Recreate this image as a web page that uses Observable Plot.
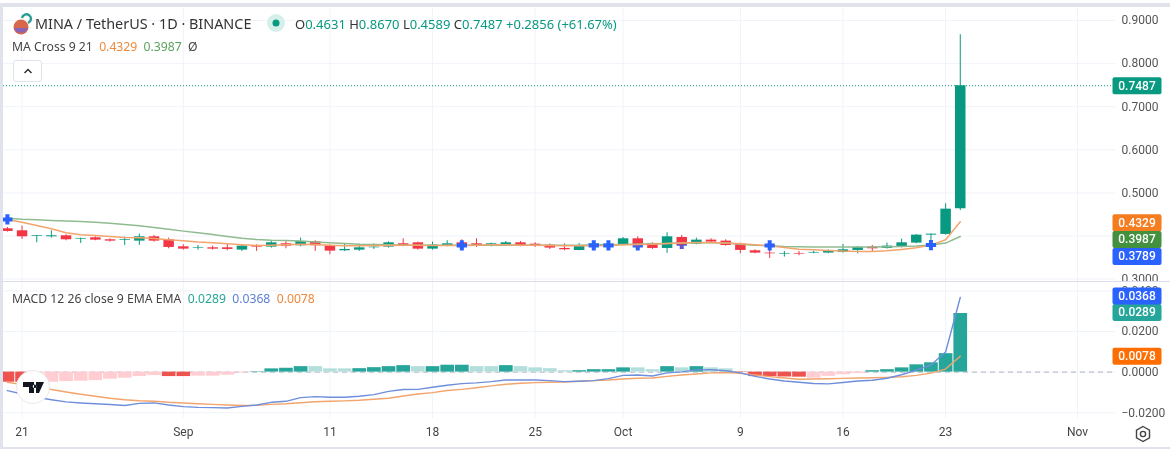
<!DOCTYPE html>
<html><head><meta charset="utf-8">
<script src="https://cdn.jsdelivr.net/npm/d3@7"></script>
<script src="https://cdn.jsdelivr.net/npm/@observablehq/plot@0.6"></script>
<style>
html,body{margin:0;padding:0;background:#fff;}
#stage{position:relative;width:1170px;height:451px;overflow:hidden;font-family:Roboto,sans-serif;filter:blur(0.3px);}
#stage svg{display:block;max-width:none;}
.ov{position:absolute;white-space:nowrap;}
</style></head><body>
<div id="stage">
<div id="paneTop"></div><div id="paneBot"></div>
<div class="ov" style="left:0;top:3px;width:1170px;height:4px;background:#e0e3eb"></div>
<div class="ov" style="left:0;top:3px;width:3px;height:446px;background:#e0e3eb"></div>
<div class="ov" style="left:0;top:281px;width:1170px;height:1px;background:#dcdcec"></div>
<div class="ov" style="left:0;top:447px;width:1170px;height:2px;background:#e0e3eb"></div>
<svg class="ov" style="left:11px;top:13px" width="22" height="22" viewBox="0 0 22 22"><circle cx="10" cy="14" r="7.5" fill="#d9674a"/><path d="M3 15a7.5 7.5 0 0 0 14 0z" fill="#8a63b8"/><path d="M11 5a4.5 4.5 0 1 1 6 5" fill="none" stroke="#2a9d96" stroke-width="2.4"/></svg>
<div class="ov" style="left:35px;top:14px;font:14.4px 'Noto Sans',sans-serif;color:#333;">MINA / TetherUS · 1D · BINANCE</div>
<svg class="ov" style="left:266px;top:13px" width="20" height="20"><circle cx="10" cy="10" r="9" fill="#d5efea"/><circle cx="10" cy="10" r="3.5" fill="#089981"/></svg>
<div class="ov" style="left:295px;top:15px;font:13px 'Noto Sans',sans-serif;color:#089981;">
<span style="color:#333">O</span>0.4631 <span style="color:#333">H</span>0.8670 <span style="color:#333">L</span>0.4589 <span style="color:#333">C</span>0.7487 +0.2856 (+61.67%)</div>
<div class="ov" style="left:12px;top:38px;font:12.2px 'Noto Sans',sans-serif;color:#444;">MA Cross 9 21 &nbsp;<span style="color:#f0883a">0.4329</span> &nbsp;<span style="color:#5aa35e">0.3987</span> &nbsp;Ø</div>
<div class="ov" style="left:13px;top:60px;width:27px;height:20px;border:1px solid #e0e3eb;border-radius:3px;background:#fff;text-align:center;"><svg width="12" height="20" style="margin:auto"><path d="M2.5 12 6 8.5 9.500 12" fill="none" stroke="#333" stroke-width="1.5"/></svg></div>
<div class="ov" style="left:12px;top:290px;font:12.2px 'Noto Sans',sans-serif;color:#444;">MACD 12 26 close 9 EMA EMA &nbsp;<span style="color:#26a69a">0.0289</span> &nbsp;<span style="color:#5b7fd6">0.0368</span> &nbsp;<span style="color:#f0883a">0.0078</span></div>
<svg class="ov" style="left:14px;top:368px" width="40" height="40"><circle cx="19" cy="19" r="16.500" fill="#fff" stroke="#e8e8ee"/><path d="M9 14h11v11h-5v-6h-6z M22 14h8l-5 11h-3z M20.500 16.500a1.800 1.800 0 1 0 .1 0z" fill="#131722"/></svg>
<svg class="ov" style="left:1133px;top:424px" width="20" height="20"><path d="M10 2.500 16.500 6.250v7.500L10 17.500 3.500 13.750v-7.500z" fill="none" stroke="#444" stroke-width="1.400"/><circle cx="10" cy="10" r="2.600" fill="none" stroke="#444" stroke-width="1.400"/></svg>
</div>
<script>
const opens=[.4167,.4121,.3989,.3981,.4005,.3927,.3958,.3912,.3896,.3881,.3981,.3912,.3749,.3719,.3726,.3726,.3672,.3773,.3742,.3819,.3773,.3865,.3765,.3657,.3672,.3726,.3742,.3819,.3842,.3695,.3773,.3842,.3819,.3765,.3796,.3842,.3811,.3788,.3711,.3664,.3750,.3742,.3796,.3935,.3827,.3711,.3966,.3811,.3904,.3881,.3811,.3657,.3603,.3580,.3595,.3603,.3603,.3618,.3665,.3742,.3711,.3757,.3835,.4020,.4036,.4631];
const highs=[.4198,.4229,.4012,.4121,.4028,.3950,.3981,.3935,.3974,.4043,.4012,.3950,.3796,.3780,.3765,.3811,.3796,.3796,.3873,.3873,.3950,.3889,.3796,.3811,.3811,.3819,.3865,.3935,.3858,.3858,.3889,.3912,.3935,.3835,.3873,.3873,.3842,.3811,.3819,.3827,.3873,.3858,.3966,.3981,.3842,.4074,.4012,.3950,.3935,.3912,.3835,.3680,.3665,.3641,.3641,.3649,.3680,.3804,.3757,.3780,.3835,.3927,.4036,.4043,.4747,.8670];
const lows=[.4090,.3920,.3842,.3950,.3889,.3827,.3889,.3858,.3780,.3780,.3858,.3703,.3672,.3672,.3672,.3657,.3641,.3641,.3719,.3703,.3749,.3641,.3564,.3641,.3641,.3688,.3719,.3749,.3672,.3672,.3749,.3664,.3734,.3749,.3765,.3749,.3734,.3688,.3657,.3657,.3688,.3703,.3780,.3719,.3688,.3595,.3688,.3796,.3835,.3765,.3587,.3587,.3479,.3510,.3541,.3587,.3587,.3603,.3587,.3634,.3696,.3726,.3819,.3819,.4020,.4589];
const closes=[.4105,.3981,.4005,.4005,.3912,.3943,.3904,.3881,.3912,.3981,.3881,.3734,.3695,.3734,.3695,.3688,.3765,.3742,.3842,.3765,.3873,.3773,.3649,.3688,.3726,.3742,.3842,.3780,.3695,.3788,.3819,.3750,.3765,.3819,.3842,.3780,.3765,.3719,.3680,.3765,.3819,.3811,.3935,.3780,.3711,.3981,.3788,.3904,.3858,.3780,.3665,.3603,.3587,.3595,.3580,.3618,.3649,.3680,.3734,.3703,.3765,.3842,.4020,.4043,.4623,.7487];
const ma9=[.4383,.4321,.4244,.4167,.4074,.4028,.4012,.3989,.3966,.3958,.3943,.3912,.3889,.3858,.3842,.3819,.3796,.3780,.3788,.3796,.3811,.3804,.3788,.3773,.3773,.3780,.3780,.3788,.3788,.3780,.3780,.3780,.3788,.3796,.3796,.3788,.3788,.3780,.3773,.3773,.3773,.3780,.3796,.3804,.3811,.3827,.3835,.3850,.3850,.3835,.3819,.3796,.3773,.3734,.3695,.3680,.3665,.3649,.3641,.3641,.3657,.3688,.3726,.3789,.3912,.4329];
const ma21=[.4414,.4391,.4376,.4360,.4345,.4337,.4321,.4298,.4267,.4236,.4198,.4159,.4113,.4074,.4035,.3989,.3950,.3920,.3904,.3896,.3881,.3858,.3842,.3827,.3811,.3804,.3796,.3788,.3788,.3788,.3788,.3788,.3788,.3788,.3788,.3788,.3788,.3788,.3788,.3788,.3796,.3796,.3804,.3811,.3819,.3827,.3835,.3842,.3842,.3835,.3811,.3788,.3773,.3757,.3750,.3742,.3742,.3742,.3742,.3742,.3750,.3757,.3765,.3789,.3835,.3987];
const crossDays=[0,31,40,41,43,46,52,63];
const crossValues=[.4383,.3780,.3780,.3780,.3780,.3819,.3780,.3789];
const crossBehindCandle=[43,46];
const hist=[-.0050,-.0050,-.0050,-.0050,-.0047,-.0045,-.0042,-.0035,-.0030,-.0022,-.0017,-.0022,-.0022,-.0020,-.0020,-.0015,-.0004,.0002,.0016,.0019,.0027,.0027,.0016,.0016,.0017,.0022,.0027,.0032,.0027,.0027,.0034,.0034,.0027,.0027,.0032,.0027,.0021,.0017,.0007,.0007,.0012,.0012,.0021,.0021,.0012,.0027,.0021,.0027,.0021,.0016,-.0002,-.0022,-.0022,-.0024,-.0025,-.0030,-.0021,-.0013,-.0007,.0007,.0012,.0021,.0036,.0046,.0091,.0289];
const tones=["d","d","l","l","l","l","l","l","l","l","l","d","d","l","l","l","l","d","d","d","d","l","l","l","d","d","d","d","l","d","d","d","l","l","d","l","l","l","l","d","d","d","d","l","l","d","l","d","l","l","d","d","d","d","d","l","l","l","l","d","d","d","d","d","d","d"];
const macd=[-.0091,-.0108,-.0124,-.0136,-.0147,-.0152,-.0156,-.0160,-.0165,-.0154,-.0152,-.0162,-.0170,-.0174,-.0175,-.0177,-.0169,-.0162,-.0149,-.0144,-.0126,-.0121,-.0124,-.0124,-.0119,-.0111,-.0095,-.0086,-.0085,-.0075,-.0065,-.0057,-.0053,-.0047,-.0039,-.0039,-.0039,-.0042,-.0047,-.0045,-.0042,-.0032,-.0016,-.0014,-.0019,-.0004,.0001,.0011,.0012,.0007,-.0004,-.0021,-.0034,-.0044,-.0050,-.0056,-.0058,-.0051,-.0044,-.0040,-.0030,-.0013,.0010,.0035,.0099,.0368];
const signal=[-.0050,-.0062,-.0075,-.0086,-.0098,-.0109,-.0119,-.0129,-.0136,-.0141,-.0144,-.0149,-.0152,-.0156,-.0159,-.0162,-.0165,-.0164,-.0159,-.0156,-.0151,-.0146,-.0144,-.0142,-.0139,-.0134,-.0129,-.0118,-.0108,-.0101,-.0091,-.0085,-.0077,-.0068,-.0060,-.0055,-.0052,-.0050,-.0049,-.0045,-.0042,-.0039,-.0034,-.0030,-.0029,-.0021,-.0014,-.0009,-.0004,-.0002,-.0006,-.0014,-.0022,-.0029,-.0035,-.0034,-.0033,-.0031,-.0029,-.0028,-.0026,-.0023,-.0016,-.0005,.0015,.0078];
const tickDates=["2023-08-21","2023-09-01","2023-09-11","2023-09-18","2023-09-25","2023-10-01","2023-10-09","2023-10-16","2023-10-23","2023-11-01"].map(d=>new Date(d));
const tickLabels=["21","Sep","11","18","25","Oct","9","16","23","Nov"];
const priceGrid=[.3,.4,.5,.6,.7,.8,.9];
const priceLabels=[.3,.5,.6,.7,.8,.9];
const macdTicks=[-.02,0,.02,.04];
const pricePills=[{v:.7487,c:"#089981",dy:0},{v:.4329,c:"#f57c1f",dy:1},{v:.3987,c:"#43903f",dy:3},{v:.3789,c:"#2962ff",dy:11.5}];
const macdPills=[{v:.0289,c:"#26a69a",dy:-1},{v:.0368,c:"#2962ff",dy:-1.5},{v:.0078,c:"#ff6d00",dy:0}];
const priceDomain=[.2921,.9278], macdDomain=[-.02288,.0442];
const xDomain=[new Date(Date.UTC(2023,7,20)-0.4707*864e5),new Date(Date.UTC(2023,7,20)+75.59*864e5)];

const GREEN="#089981",RED="#f23645",BLUE="#2962ff";
const day=i=>new Date(Date.UTC(2023,7,20+i));
const rows=opens.map((o,i)=>({date:day(i),o,h:highs[i],l:lows[i],c:closes[i],ma9:ma9[i],ma21:ma21[i],hist:hist[i],tone:tones[i],macd:macd[i],signal:signal[i]}));
const crosses=crossDays.map((d,i)=>({date:day(d),v:crossValues[i],behind:crossBehindCandle.includes(d)}));
const pillSymbol={draw(c){const w=24.5,h=8.5,r=2;c.moveTo(-w+r,-h);c.arcTo(w,-h,w,h,r);c.arcTo(w,h,-w,h,r);c.arcTo(-w,h,-w,-h,r);c.arcTo(-w,-h,w,-h,r);c.closePath();}};
const pillMarks=ps=>ps.flatMap(p=>[
  Plot.dot([p],{x:()=>xDomain[1],y:"v",symbol:pillSymbol,fill:"c",r:4,dx:21.5,dy:p.dy}),
  Plot.text([p],{x:()=>xDomain[1],y:"v",text:d=>d.v.toFixed(4),fill:"#fff",fontSize:12,fontWeight:500,dx:21.5,dy:p.dy})
]);
const base={width:1170,marginLeft:0,marginRight:55,style:{fontFamily:"Roboto,sans-serif",fontSize:"12px",color:"#555",background:"#fff"}};
const fmt=d=>(d<0?"\u2212":"")+Math.abs(d).toFixed(4);

const chartTop=Plot.plot({...base,height:282,marginTop:8,marginBottom:0,
  x:{type:"utc",domain:xDomain,axis:null},
  y:{domain:priceDomain,axis:null},
  marks:[
    Plot.gridX(tickDates,{stroke:"#f0f3fa",strokeOpacity:1}),
    Plot.gridY(priceGrid,{stroke:"#f0f3fa",strokeOpacity:1}),
    Plot.axisY({anchor:"right",ticks:priceLabels,tickSize:0,tickPadding:6,tickFormat:fmt,label:null,textAnchor:"start",fill:"#555"}),
    Plot.ruleY([closes[closes.length-1]],{stroke:GREEN,strokeDasharray:"1 2"}),
    Plot.dot(crosses.filter(d=>d.behind),{x:"date",y:"v",symbol:"plus",r:3.4,stroke:BLUE,strokeWidth:4}),
    Plot.ruleX(rows,{x:"date",y1:"l",y2:"h",stroke:d=>d.c>=d.o?GREEN:RED,strokeWidth:1}),
    Plot.ruleX(rows,{x:"date",y1:"o",y2:"c",stroke:d=>d.c>=d.o?GREEN:RED,strokeWidth:10.5}),
    Plot.line(rows,{x:"date",y:"ma21",stroke:"#8fbc8f",strokeWidth:1.5}),
    Plot.line(rows,{x:"date",y:"ma9",stroke:"#f2a46c",strokeWidth:1.5}),
    Plot.dot(crosses.filter(d=>!d.behind),{x:"date",y:"v",symbol:"plus",r:3.4,stroke:BLUE,strokeWidth:4}),
    ...pillMarks(pricePills)
  ]});
const chartBot=Plot.plot({...base,height:169,marginTop:0,marginBottom:33,
  x:{type:"utc",domain:xDomain,axis:null},
  y:{domain:macdDomain,axis:null},
  marks:[
    Plot.gridX(tickDates,{stroke:"#f0f3fa",strokeOpacity:1}),
    Plot.gridY(macdTicks,{stroke:"#f0f3fa",strokeOpacity:1}),
    Plot.ruleY([0],{stroke:"#b2b5be",strokeDasharray:"5 4"}),
    Plot.axisY({anchor:"right",ticks:macdTicks,tickSize:0,tickPadding:6,tickFormat:fmt,label:null,textAnchor:"start",fill:"#555"}),
    Plot.axisX({ticks:tickDates,tickSize:0,tickPadding:9,label:null,fill:"#444",tickFormat:d=>tickLabels[tickDates.findIndex(t=>+t===+d)]}),
    Plot.ruleX(rows,{x:"date",y1:()=>0,y2:"hist",strokeWidth:13.7,
      stroke:d=>d.hist>=0?(d.tone==="d"?"#26a69a":"#b2dfdb"):(d.tone==="d"?"#ef5350":"#ffcdd2")}),
    Plot.line(rows,{x:"date",y:"signal",stroke:"#f2a46c",strokeWidth:1.4}),
    Plot.line(rows,{x:"date",y:"macd",stroke:"#6f8fdc",strokeWidth:1.4}),
    ...pillMarks(macdPills)
  ]});
document.getElementById("paneTop").append(chartTop);
document.getElementById("paneBot").append(chartBot);
</script>
</body></html>
